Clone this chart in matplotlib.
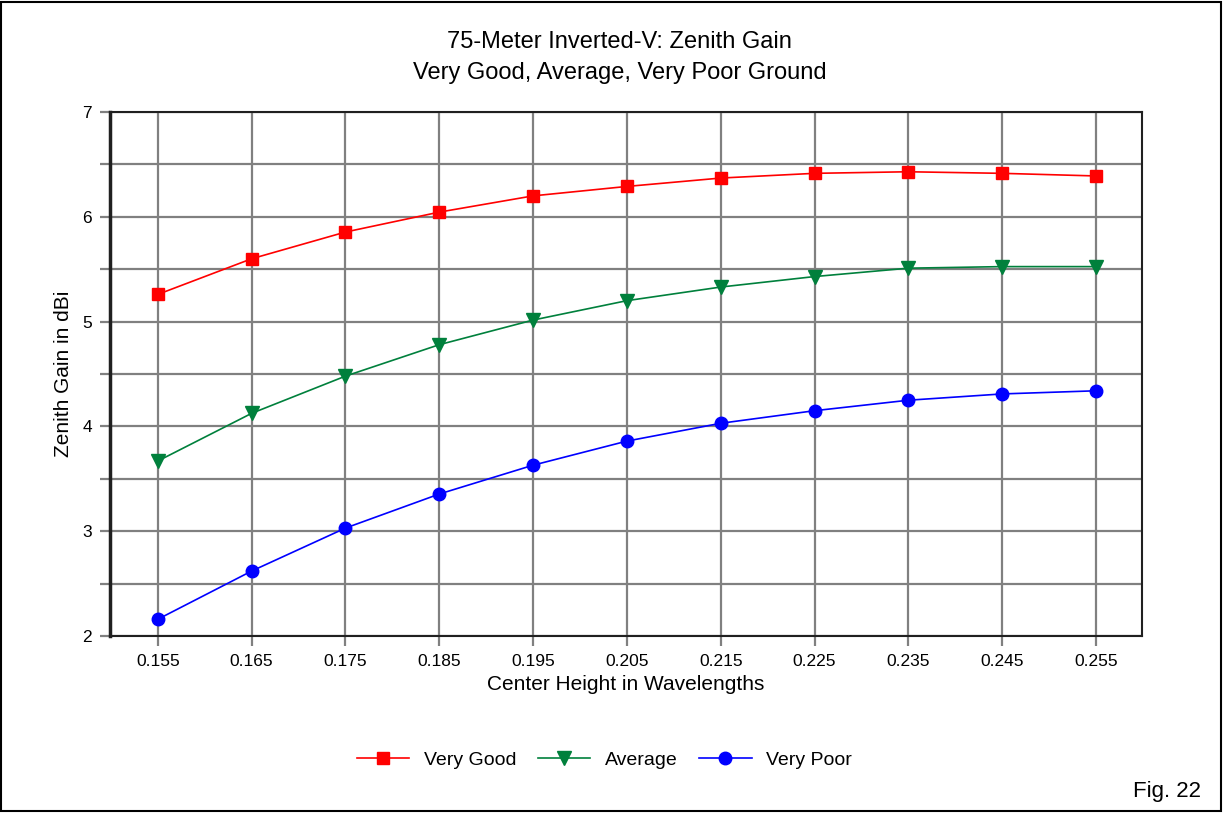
import matplotlib.pyplot as plt
from matplotlib.patches import Rectangle
from matplotlib.ticker import MultipleLocator, FuncFormatter

heights = ["0.155", "0.165", "0.175", "0.185", "0.195", "0.205",
           "0.215", "0.225", "0.235", "0.245", "0.255"]
very_good = [5.26, 5.60, 5.855, 6.045, 6.20, 6.29, 6.37, 6.415, 6.43, 6.415, 6.39]
average = [3.67, 4.125, 4.48, 4.78, 5.015, 5.20, 5.33, 5.43, 5.51, 5.525, 5.525]
very_poor = [2.16, 2.62, 3.03, 3.355, 3.63, 3.86, 4.03, 4.15, 4.25, 4.31, 4.34]

plt.rcParams['font.family'] = ['Liberation Sans', 'DejaVu Sans']

fig = plt.figure(figsize=(12.25, 8.13), dpi=100)
ax = fig.add_axes([0.0898, 0.2177, 0.8424, 0.6445])

x = list(range(len(heights)))
ax.plot(x, very_good, color='#ff0000', lw=1.2, marker='s', ms=9, label='Very Good')
ax.plot(x, average, color='#00803c', lw=1.2, marker='v', ms=10, label='Average')
ax.plot(x, very_poor, color='#0000ff', lw=1.2, marker='o', ms=9, label='Very Poor')

ax.set_xlim(-0.51, 10.49)
ax.set_ylim(2, 7)
ax.set_xticks(x)
ax.set_xticklabels(heights)
ax.yaxis.set_major_locator(MultipleLocator(0.5))
ax.yaxis.set_major_formatter(FuncFormatter(lambda v, p: f"{v:g}" if abs(v - round(v)) < 1e-6 else ""))
ax.grid(True, color='#808080', lw=1.6, zorder=0)
ax.set_axisbelow(True)
ax.tick_params(axis='both', direction='out', length=7, width=1.6, color='#808080',
               labelsize=12.5, pad=6)
for side in ['top', 'right', 'bottom']:
    ax.spines[side].set_linewidth(1.5)
    ax.spines[side].set_color('#202020')
ax.spines['left'].set_linewidth(2.5)
ax.spines['left'].set_color('#202020')

ax.set_xlabel('Center Height in Wavelengths', fontsize=15, labelpad=4)
ax.set_ylabel('Zenith Gain in dBi', fontsize=15, va='center')
ax.yaxis.set_label_coords(-0.0455, 0.5)

fig.text(0.506, 0.948, '75-Meter Inverted-V: Zenith Gain', ha='center', va='center', fontsize=17)
fig.text(0.506, 0.910, 'Very Good, Average, Very Poor Ground', ha='center', va='center', fontsize=17)

fig.legend(loc='center', bbox_to_anchor=(0.4935, 1 - 760 / 813), ncol=3, frameon=False,
           fontsize=14, handlelength=2.7, columnspacing=1.1, handletextpad=0.75)

fig.text(1201 / 1225, 1 - 791 / 813, 'Fig. 22', ha='right', va='center', fontsize=16)

fig.patches.append(Rectangle((0.001, 0.002), 0.996, 0.996, transform=fig.transFigure,
                             fill=False, edgecolor='black', lw=1.5))

fig.savefig('out.png', dpi=100)
